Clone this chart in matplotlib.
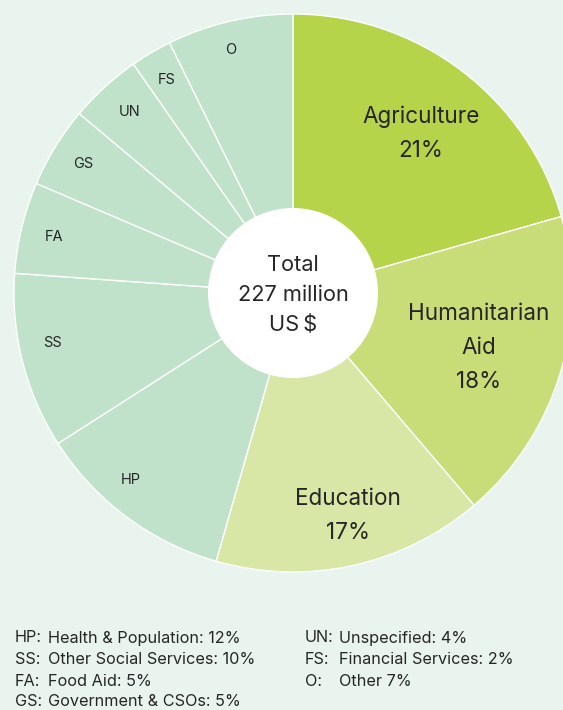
import matplotlib
matplotlib.use("Agg")
import matplotlib.pyplot as plt
from matplotlib.patches import Circle

plt.rcParams['font.family'] = ['Inter', 'DejaVu Sans']

# Data
categories = ["Agriculture", "Humanitarian Aid", "Education", "HP", "SS", "FA", "GS", "UN", "FS", "O"]
shares = [20.6, 18.2, 15.7, 11.5, 10.2, 5.3, 4.7, 4.2, 2.4, 7.3]  # measured from wedge angles
pct_labels = ["21%", "18%", "17%", "12%", "10%", "5%", "5%", "4%", "2%", "7%"]
wedge_labels = ["Agriculture\n21%", "Humanitarian\nAid\n18%", "Education\n17%",
                "HP", "SS", "FA", "GS", "UN", "FS", "O"]
legend_abbr = ["HP:", "SS:", "FA:", "GS:", "UN:", "FS:", "O:"]
legend_text = ["Health & Population: 12%", "Other Social Services: 10%", "Food Aid: 5%",
               "Government & CSOs: 5%", "Unspecified: 4%", "Financial Services: 2%", "Other 7%"]
total_text = "Total\n227 million\nUS\u2009$"

colors = ["#b6d44a", "#c8dd78", "#d8e7a6"] + ["#c0e2cb"] * 7
bg = "#eaf4ee"
txt = "#262626"

W, H = 563, 710
fig = plt.figure(figsize=(W / 100, H / 100), dpi=100, facecolor=bg)

cx, cy, R = 293, 293, 279
ax = fig.add_axes([(cx - R) / W, (H - cy - R) / H, 2 * R / W, 2 * R / H])
ax.set_facecolor(bg)
ax.axis("off")

wedges, _ = ax.pie(shares, startangle=90, counterclock=False, colors=colors, radius=1.0,
                   wedgeprops=dict(edgecolor="white", linewidth=1.0))
ax.set_xlim(-1, 1)
ax.set_ylim(-1, 1)
ax.set_aspect("equal")

ax.add_patch(Circle((0, 0), 85 / R, facecolor="white", edgecolor="none", zorder=5))
ax.text(0, (293 - 295) / R, total_text, ha="center", va="center", fontsize=15.7, color=txt,
        linespacing=1.65, zorder=6)

def place(px, py):
    return ((px - cx) / R, (cy - py) / R)

big_pos = [(421, 134), (479, 348), (348, 516)]
small_pos = [(131, 480), (53, 343), (54, 237), (83, 164), (130, 112), (167, 80), (231, 50)]
for i, lab in enumerate(wedge_labels):
    if i < 3:
        x, y = place(*big_pos[i])
        ax.text(x, y, lab, ha="center", va="center", fontsize=16.2, color=txt,
                linespacing=1.7, zorder=6)
    else:
        x, y = place(*small_pos[i - 3])
        ax.text(x, y, lab, ha="center", va="center", fontsize=10.5, color=txt, zorder=6)

# Legend text at bottom
rows_y = [638, 659.5, 681, 701]
for i, (a, t) in enumerate(zip(legend_abbr, legend_text)):
    if i < 4:
        xa, xt, y = 15, 48, rows_y[i]
    else:
        xa, xt, y = 305, 339, rows_y[i - 4]
    fig.text(xa / W, 1 - y / H, a, ha="left", va="center", fontsize=11.7, color=txt)
    fig.text(xt / W, 1 - y / H, t, ha="left", va="center", fontsize=11.7, color=txt)

fig.savefig("out.png", dpi=100, facecolor=bg)
